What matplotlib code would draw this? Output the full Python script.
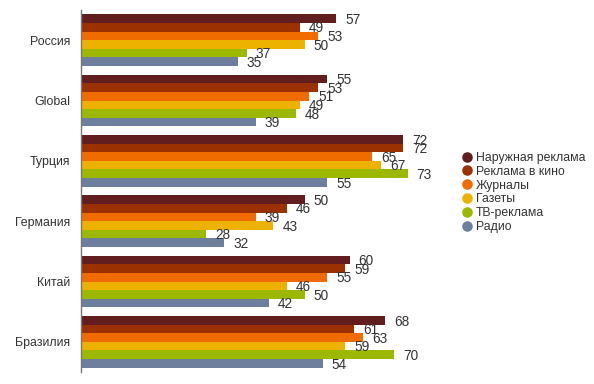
import numpy as np
import matplotlib.pyplot as plt
from matplotlib.lines import Line2D

plt.rcParams['font.family'] = ['Liberation Sans', 'DejaVu Sans']

countries = ['Россия', 'Global', 'Турция', 'Германия', 'Китай', 'Бразилия']
series = ['Наружная реклама', 'Реклама в кино', 'Журналы', 'Газеты', 'ТВ-реклама', 'Радио']
colors = ['#621e1f', '#9c3100', '#f06c00', '#edb200', '#9db800', '#6d7f9c']

outdoor = [57, 55, 72, 50, 60, 68]
cinema = [49, 53, 72, 46, 59, 61]
magazines = [53, 51, 65, 39, 55, 63]
newspapers = [50, 49, 67, 43, 46, 59]
tv = [37, 48, 73, 28, 50, 70]
radio = [35, 39, 55, 32, 42, 54]
values = [outdoor, cinema, magazines, newspapers, tv, radio]

fig = plt.figure(figsize=(5.94, 3.84), dpi=100)
ax = fig.add_axes([81 / 594, 12 / 384, 358 / 594, 362 / 384])

n = len(series)
group = 0.855
h = group / n
y = np.arange(len(countries))
for i, (vals, c) in enumerate(zip(values, colors)):
    pos = y - group / 2 + h * (i + 0.5)
    ax.barh(pos, vals, height=h, color=c, linewidth=0)
    for p, v in zip(pos, vals):
        ax.text(v + 2.0, p + 0.02, str(v), va='center', ha='left',
                fontsize=9.8, color='#333333')

ax.set_xlim(0, 80)
ax.set_ylim(len(countries) - 0.5, -0.5)
ax.set_yticks(y)
ax.set_yticklabels(countries, fontsize=8.9, color='#333333')
ax.tick_params(axis='y', length=0, pad=8)
ax.set_xticks([])
for s in ['top', 'right', 'bottom']:
    ax.spines[s].set_visible(False)
ax.spines['left'].set_color('#777777')
ax.spines['left'].set_linewidth(1)

handles = [Line2D([0], [0], marker='o', linestyle='', markersize=7.6,
                  markerfacecolor=c, markeredgewidth=0) for c in colors]
fig.legend(handles, series, loc='upper left', bbox_to_anchor=(455 / 594, 1 - 147 / 384),
           frameon=False, fontsize=8.8, handletextpad=0.1, labelspacing=0.15,
           borderaxespad=0, handlelength=1.2, labelcolor='#333333')

fig.savefig('out.png', dpi=100)
